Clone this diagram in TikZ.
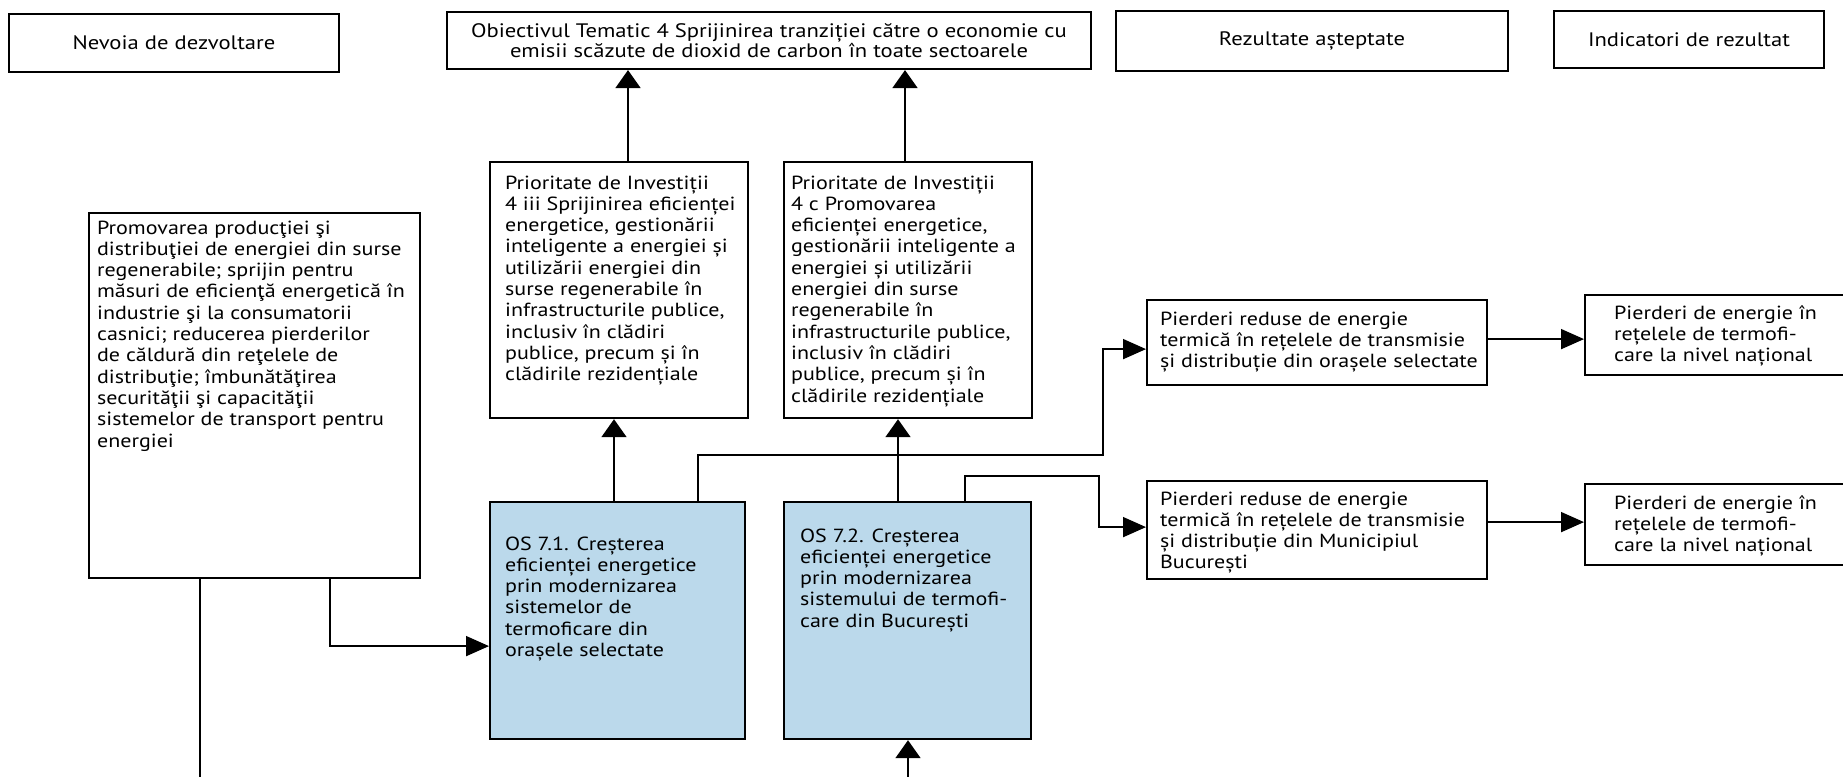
\documentclass[tikz,border=0pt]{standalone}
\usepackage{fontspec}
\setmainfont{PT Sans}[FakeStretch=1.16]
\usepackage{tikz}
\usetikzlibrary{arrows.meta,positioning}
\definecolor{osblue}{RGB}{187,217,235}
\newcommand{\boxtext}[5]{\parbox[t][#2pt][t]{#1pt}{\raggedright\leftskip=#3pt\vspace*{#4pt}\strut#5}}

\begin{document}
\begin{tikzpicture}[x=1pt,y=-1pt]
\tikzstyle{hdr}=[draw, line width=2.2pt, align=center, inner sep=0pt, font=\fontsize{19.5}{20}\selectfont]
\tikzstyle{box}=[draw, line width=2.2pt, inner sep=0pt, anchor=north west, font=\fontsize{19}{21.3}\selectfont]
\tikzstyle{osbox}=[box, fill=osblue]
\tikzstyle{vlink}=[line width=1.8pt, -{Triangle[length=18pt,width=25pt]}]
\tikzstyle{hlink}=[line width=1.8pt, -{Triangle[length=23pt,width=20pt]}]
\useasboundingbox (0,0) rectangle (1843,776);
\node[hdr, minimum width=330, minimum height=58] (nd) at (174,43) {Nevoia de dezvoltare};
\node[hdr, minimum width=644, minimum height=57] (ot) at (769,40.5) {Obiectivul Tematic 4 Sprijinirea tranziției către o economie cu\\emisii scăzute de dioxid de carbon în toate sectoarele};
\node[hdr, minimum width=392, minimum height=60] (ra) at (1312,41) {Rezultate așteptate};
\node[hdr, minimum width=270, minimum height=57] (ir) at (1689,39.5) {Indicatori de rezultat};
\node[box] (need) at (88,212) {\boxtext{331}{365}{8}{6}{Promovarea producţiei şi\\distribuţiei de energiei din surse\\regenerabile; sprijin pentru\\măsuri de eficienţă energetică în\\industrie şi la consumatorii\\casnici; reducerea pierderilor\\de căldură din reţelele de\\distribuţie; îmbunătăţirea\\securităţii şi capacităţii\\sistemelor de transport pentru\\energiei}};
\node[box] (pi1) at (489,161) {\boxtext{258}{256}{15}{12}{Prioritate de Investiții\\4 iii Sprijinirea eficienței\\energetice, gestionării\\inteligente a energiei și\\utilizării energiei din\\surse regenerabile în\\infrastructurile publice,\\inclusiv în clădiri\\publice, precum și în\\clădirile rezidențiale}};
\node[box] (pi2) at (783,161) {\boxtext{248}{256}{7}{12}{Prioritate de Investiții\\4 c Promovarea\\eficienței energetice,\\gestionării inteligente a\\energiei și utilizării\\energiei din surse\\regenerabile în\\infrastructurile publice,\\inclusiv în clădiri\\publice, precum și în\\clădirile rezidențiale}};
\node[osbox] (os1) at (489,501) {\boxtext{255}{237}{15}{33}{OS 7.1. Creșterea\\eficienței energetice\\prin modernizarea\\sistemelor de\\termoficare din\\orașele selectate}};
\node[osbox] (os2) at (783,501) {\boxtext{247}{237}{16}{25}{OS 7.2. Creșterea\\eficienței energetice\\prin modernizarea\\sistemului de termofi-\\care din București}};
\node[box] (r1) at (1146,299) {\boxtext{340}{85}{13}{10}{Pierderi reduse de energie\\termică în rețelele de transmisie\\și distribuție din orașele selectate}};
\node[box] (r2) at (1146,480) {\boxtext{340}{98}{13}{9}{Pierderi reduse de energie\\termică în rețelele de transmisie\\și distribuție din Municipiul\\București}};
\node[box] (i1) at (1584,294) {\boxtext{264}{80}{29}{9}{Pierderi de energie în\\rețelele de termofi-\\care la nivel național}};
\node[box] (i2) at (1584,483) {\boxtext{264}{81}{29}{10}{Pierderi de energie în\\rețelele de termofi-\\care la nivel național}};
\path (os1.north west) ++(125,0) coordinate (a1) ++(84,0) coordinate (b1);
\path (os2.north west) ++(115,0) coordinate (a2) ++(67,0) coordinate (b2);
\path (pi1.north west) ++(139,0) coordinate (c1);
\path (pi2.north west) ++(122,0) coordinate (c2);
\path (need.south west) ++(112,0) coordinate (d1) ++(130,0) coordinate (d2);
\path (os2.south west) ++(125,0) coordinate (e2);
\path ([yshift=3.5pt]r1.east) coordinate (r1o);
\path ([yshift=8pt]r2.east) coordinate (r2o);
\draw[vlink] (a1) -- (a1 |- pi1.south);
\draw[vlink] (a2) -- (a2 |- pi2.south);
\draw[vlink] (c1) -- (c1 |- ot.south);
\draw[vlink] (c2) -- (c2 |- ot.south);
\draw[hlink] (b1) -- ++(0,-46) -| ([xshift=-43pt,yshift=-6.5pt]r1.west) -- ([yshift=-6.5pt]r1.west);
\draw[hlink] (b2) -- ++(0,-25) -| ([xshift=-47pt,yshift=3pt]r2.west) -- ([yshift=3pt]r2.west);
\draw[hlink] (r1o) -- (r1o -| i1.west);
\draw[hlink] (r2o) -- (r2o -| i2.west);
\draw[hlink] (d2) |- ([yshift=-25.5pt]os1.west);
\draw[line width=1.8pt] (d1) -- ++(0,199);
\draw[vlink] (e2) ++(0,38) -- (e2);
\end{tikzpicture}
\end{document}
